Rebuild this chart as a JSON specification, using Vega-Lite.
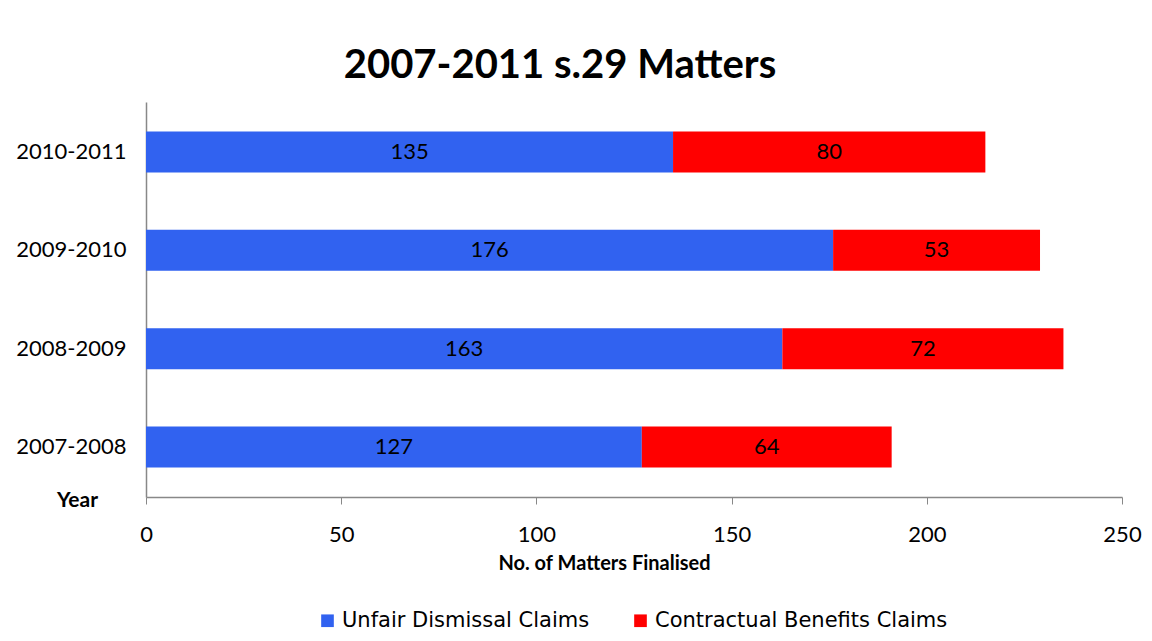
{
  "$schema": "https://vega.github.io/schema/vega-lite/v6.json",
  "width": 976,
  "height": 395,
  "autosize": {"type": "none"},
  "padding": {"left": 146, "top": 102, "right": 30, "bottom": 144},
  "background": "white",
  "title": {
    "text": "2007-2011 s.29 Matters",
    "font": "Lato",
    "fontSize": 40,
    "fontWeight": "bold",
    "color": "black",
    "anchor": "middle",
    "dx": -74,
    "baseline": "alphabetic",
    "offset": -16
  },
  "data": {
    "values": [
      {"year": "2007-2008", "series": "Unfair Dismissal Claims", "count": 127},
      {"year": "2007-2008", "series": "Contractual Benefits Claims", "count": 64},
      {"year": "2008-2009", "series": "Unfair Dismissal Claims", "count": 163},
      {"year": "2008-2009", "series": "Contractual Benefits Claims", "count": 72},
      {"year": "2009-2010", "series": "Unfair Dismissal Claims", "count": 176},
      {"year": "2009-2010", "series": "Contractual Benefits Claims", "count": 53},
      {"year": "2010-2011", "series": "Unfair Dismissal Claims", "count": 135},
      {"year": "2010-2011", "series": "Contractual Benefits Claims", "count": 80}
    ]
  },
  "config": {
    "view": {"stroke": null},
    "font": "Lato"
  },
  "layer": [
    {
      "mark": {"type": "bar"},
      "encoding": {
        "y": {
          "field": "year",
          "type": "nominal",
          "sort": "descending",
          "scale": {"paddingInner": 0.583, "paddingOuter": 0.3},
          "axis": {
            "title": "Year",
            "titleAngle": 0,
            "titleX": -69,
            "titleY": 398,
            "titleAlign": "center",
            "titleBaseline": "middle",
            "titleFont": "Lato",
            "titleFontSize": 21,
            "titleFontWeight": "bold",
            "titleColor": "black",
            "labelFont": "Lato",
            "labelFontSize": 22,
            "labelColor": "black",
            "labelPadding": 20,
            "ticks": false,
            "domainColor": "#888888",
            "domainWidth": 1.5
          }
        },
        "x": {
          "field": "count",
          "type": "quantitative",
          "stack": "zero",
          "scale": {"domain": [0, 250], "nice": false},
          "axis": {
            "title": "No. of Matters Finalised",
            "values": [0, 50, 100, 150, 200, 250],
            "grid": false,
            "labelFlush": false,
            "titleX": 458,
            "titleY": 66,
            "titleAlign": "center",
            "titleBaseline": "middle",
            "titleFont": "Lato",
            "titleFontSize": 20,
            "titleFontWeight": "bold",
            "titleColor": "black",
            "labelFont": "Lato",
            "labelFontSize": 22,
            "labelColor": "black",
            "labelPadding": 20,
            "tickSize": 7,
            "tickColor": "#888888",
            "domainColor": "#888888",
            "domainWidth": 1.5
          }
        },
        "color": {
          "field": "series",
          "type": "nominal",
          "scale": {
            "domain": ["Unfair Dismissal Claims", "Contractual Benefits Claims"],
            "range": ["#3162F0", "#FF0000"]
          },
          "legend": {
            "title": null,
            "orient": "none",
            "direction": "horizontal",
            "legendX": 171,
            "legendY": 508,
            "symbolType": "square",
            "symbolSize": 160,
            "symbolStrokeWidth": 0,
            "labelFont": "DejaVu Sans",
            "labelFontSize": 21,
            "labelColor": "black",
            "labelOffset": 4,
            "columnPadding": 40,
            "labelLimit": 400
          }
        },
        "order": {"field": "series", "sort": "descending"}
      }
    },
    {
      "transform": [
        {"stack": "count", "groupby": ["year"], "sort": [{"field": "series", "order": "descending"}], "as": ["x0", "x1"]},
        {"fold": ["x0", "x1"], "as": ["edge", "pos"]}
      ],
      "mark": {"type": "text", "font": "Lato", "fontSize": 22, "color": "black", "baseline": "middle", "align": "center"},
      "encoding": {
        "y": {"field": "year", "type": "nominal", "sort": "descending"},
        "x": {"aggregate": "mean", "field": "pos", "type": "quantitative"},
        "detail": {"field": "series", "type": "nominal"},
        "text": {"field": "count", "type": "quantitative"}
      }
    }
  ]
}
